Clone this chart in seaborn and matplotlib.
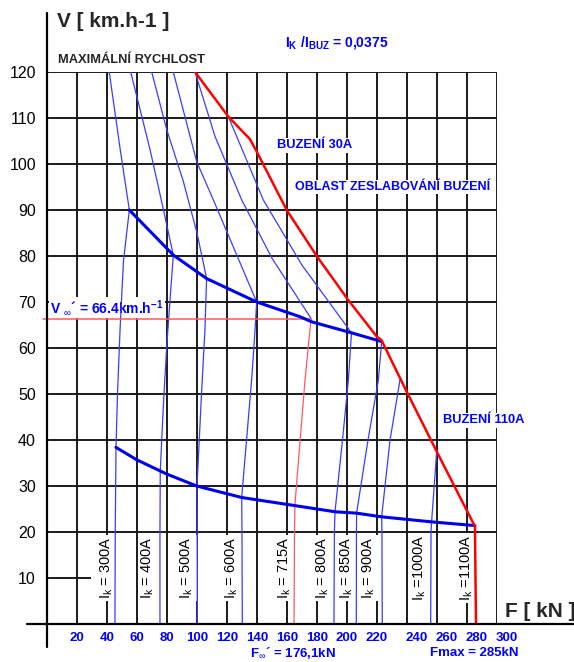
"""Traction characteristic F-V of a series motor with field weakening."""

import matplotlib

matplotlib.use("Agg")
import matplotlib.pyplot as plt
import seaborn as sns
from matplotlib.transforms import ScaledTranslation

# axes ticks
V_TICKS = [10, 20, 30, 40, 50, 60, 70, 80, 90, 100, 110, 120]
F_TICKS = [20, 40, 60, 80, 100, 120, 140, 160, 180, 200, 220, 240, 260, 280, 300]

# BUZENI 110A (full field) - lower bold curve
F_FULL = [46.0, 59.8, 79.8, 99.8, 129.8, 162.0, 192.0, 206.4, 223.0, 256.4, 285.3]
V_FULL = [38.4, 35.7, 32.6, 30.0, 27.5, 25.9, 24.4, 24.1, 23.3, 22.2, 21.4]

# BUZENI 30A (weakest field) - upper bold curve
F_WEAK = [54.9, 84.2, 106.4, 139.8, 168.7, 176.4, 203.0, 223.1]
V_WEAK = [90.0, 80.2, 75.1, 70.0, 66.8, 65.7, 63.3, 61.4]

# limit envelope (red)
F_LIMIT = [98.7, 120.9, 135.3, 139.8, 159.8, 179.8, 200.9, 219.8, 223.0, 239.8, 259.8, 285.3, 286.0]
V_LIMIT = [120.0, 110.3, 105.4, 102.7, 90.0, 80.0, 70.4, 62.5, 61.7, 50.5, 37.5, 21.2, 0.0]

# constant armature current lines
I300_F = [45.3, 45.5, 46.0, 47.0, 48.7, 51.0, 54.9, 48.7, 41.5]
I300_V = [0.0, 20.0, 38.4, 50.0, 64.0, 79.0, 90.0, 103.4, 120.0]
I400_F = [75.3, 75.3, 75.5, 77.5, 79.8, 82.0, 84.2, 77.0, 68.5, 55.8]
I400_V = [0.0, 20.0, 33.2, 47.0, 60.3, 70.4, 80.2, 91.0, 103.4, 120.0]
I500_F = [100.2, 100.1, 100.0, 103.0, 105.3, 106.4, 100.0, 90.9, 79.8, 69.8]
I500_V = [0.0, 20.0, 30.0, 50.0, 64.0, 75.1, 85.0, 96.2, 107.5, 120.0]
I600_F = [130.2, 130.0, 129.8, 136.4, 138.7, 139.8, 110.9, 99.8, 84.2]
I600_V = [0.0, 20.0, 27.5, 53.0, 63.9, 70.0, 92.2, 100.5, 120.0]
I715_F = [164.7, 165.0, 165.3, 172.0, 175.3, 176.1]
I715_V = [0.0, 20.0, 26.0, 53.0, 63.9, 66.4]
I715_TOP_F = [176.1, 150.0, 129.8, 112.0, 98.7]
I715_TOP_V = [66.4, 79.5, 92.2, 106.0, 120.0]
I800_F = [191.3, 191.6, 192.0, 197.0, 200.9, 203.0, 170.0, 144.2, 120.9]
I800_V = [0.0, 20.0, 24.4, 40.0, 53.0, 63.3, 78.0, 92.2, 110.3]
I850_F = [206.2, 206.3, 206.4, 214.0, 220.9, 223.1]
I850_V = [0.0, 20.0, 24.1, 40.0, 53.0, 61.4]
I900_F = [223.5, 223.3, 223.1, 228.7, 235.3]
I900_V = [0.0, 20.0, 23.3, 40.0, 53.0]
I1000_F = [255.8, 256.0, 256.4, 259.8]
I1000_V = [0.0, 20.0, 22.2, 37.5]

# rated point
V_INF = 66.4
F_INF = 176.1

# current labels along the bottom
IK_LABELS = ["= 300A", "= 400A", "= 500A", "= 600A", "= 715A", "= 800A",
             "= 850A", "= 900A", "=1000A", "=1100A"]
IK_LABEL_F = [40.0, 67.5, 93.0, 123.0, 158.7, 184.0, 199.8, 214.7, 248.7, 279.8]

BLUE = "#0000ee"
THIN_BLUE = "#3c3cff"
RED = "#ff0000"
THIN_RED = "#ff5a5a"
GRID = "#1a1a1a"

sns.set_theme(style="white")
plt.rcParams["font.family"] = ["Liberation Sans", "DejaVu Sans"]
plt.rcParams["mathtext.fontset"] = "custom"
plt.rcParams["mathtext.rm"] = "Liberation Sans"
plt.rcParams["mathtext.bf"] = "Liberation Sans:bold"
plt.rcParams["mathtext.it"] = "Liberation Sans:italic"

fig = plt.figure(figsize=(5.74, 6.62), dpi=100, facecolor="white")
ax = fig.add_axes([47 / 574, 38 / 662, 450 / 574, 552 / 662])
ax.set_xlim(0, 300)
ax.set_ylim(0, 120)
for s in ax.spines.values():
    s.set_visible(False)

# grid
ax.vlines(F_TICKS, 0, 120, color=GRID, lw=1.4, zorder=1)
ax.hlines(V_TICKS[1:], 0, 300, color=GRID, lw=1.4, zorder=1)
ax.hlines(V_TICKS[0], 0, 29, color=GRID, lw=1.4, zorder=1)

# axis lines, running past the plot area
ax.plot([0, 0], [-5, 132.8], color="black", lw=1.6, clip_on=False, zorder=6)
ax.plot([-13.3, 351.3], [0, 0], color="black", lw=1.6, clip_on=False, zorder=6)

# ticks
ax.set_yticks(V_TICKS)
ax.set_yticklabels([str(v) for v in V_TICKS], fontsize=11.5, color="black")
ax.set_xticks(F_TICKS)
ax.set_xticklabels([str(f) for f in F_TICKS], fontsize=9.5, color="blue",
                   fontweight="bold")
ax.tick_params(axis="y", length=0, pad=8)
ax.tick_params(axis="x", length=0, pad=6)
shift = ScaledTranslation(10 / 100, 0, fig.dpi_scale_trans)
for lab in ax.get_xticklabels()[11:]:
    lab.set_transform(lab.get_transform() + shift)

# current labels (white box over the grid)
for lab, f in zip(IK_LABELS, IK_LABEL_F):
    ax.text(f, 12.2, r"$\mathrm{I_k}$ " + lab, rotation=90, ha="center",
            va="center", fontsize=10.5, color="black", zorder=2,
            bbox=dict(facecolor="white", edgecolor="none", pad=1.5))

# thin current lines
thin = dict(estimator=None, sort=False, ax=ax, lw=0.9, legend=False, zorder=3)
for fx, vy in [(I300_F, I300_V), (I400_F, I400_V), (I500_F, I500_V),
               (I600_F, I600_V), (I715_TOP_F, I715_TOP_V), (I800_F, I800_V),
               (I850_F, I850_V), (I900_F, I900_V), (I1000_F, I1000_V)]:
    sns.lineplot(x=fx, y=vy, color=THIN_BLUE, **thin)
sns.lineplot(x=I715_F, y=I715_V, color=THIN_RED, **thin)
ax.plot([-2.7, F_INF], [V_INF, V_INF], color=THIN_RED, lw=1.1, clip_on=False,
        zorder=3)

# bold curves
sns.lineplot(x=F_FULL, y=V_FULL, color=BLUE, lw=2.2, estimator=None,
             sort=False, ax=ax, zorder=4)
sns.lineplot(x=F_WEAK, y=V_WEAK, color=BLUE, lw=2.2, estimator=None,
             sort=False, ax=ax, zorder=4)
sns.lineplot(x=F_LIMIT, y=V_LIMIT, color=RED, lw=1.8, estimator=None,
             sort=False, ax=ax, zorder=5)
ax.set_xlabel("")
ax.set_ylabel("")

# texts
wbox = dict(facecolor="white", edgecolor="none", pad=1)
ax.text(6.7, 130.9, "V [ km.h-1 ]", fontsize=15, fontweight="bold",
        ha="left", va="center", clip_on=False)
ax.text(305.3, 2.8, "F [ kN ]", fontsize=15, fontweight="bold",
        ha="left", va="center", clip_on=False)
ax.text(7.3, 122.6, "MAXIMÁLNÍ RYCHLOST", fontsize=9.3, fontweight="bold",
        ha="left", va="center", clip_on=False)
ax.text(158.7, 126.5, r"$\mathbf{I_K}$ $\mathbf{/I_{BUZ}}$ = 0,0375",
        fontsize=10, fontweight="bold", color="blue", ha="left",
        va="center", clip_on=False)
ax.text(153.3, 104.1, "BUZENÍ 30A", fontsize=9.3, fontweight="bold",
        color="blue", ha="left", va="center", bbox=wbox, zorder=2)
ax.text(165.3, 95.0, "OBLAST ZESLABOVÁNÍ BUZENÍ", fontsize=9.0,
        fontweight="bold", color="blue", ha="left", va="center", bbox=wbox,
        zorder=2)
ax.text(264.0, 44.3, "BUZENÍ 110A", fontsize=9.3, fontweight="bold",
        color="blue", ha="left", va="center", bbox=wbox, zorder=2)
ax.text(2.0, 68.8, r"V $_{\infty}$´ = 66.4km.h$^{\mathbf{-1}}$", fontsize=10,
        fontweight="bold", color="blue", ha="left", va="center", bbox=wbox,
        zorder=2)
ax.text(135.3, -6.3, r"F$_{\infty}$´ = 176,1kN", fontsize=9.5,
        fontweight="bold", color="blue", ha="left", va="center",
        clip_on=False)
ax.text(255.3, -6.3, "Fmax = 285kN", fontsize=9.5, fontweight="bold",
        color="blue", ha="left", va="center", clip_on=False)

fig.savefig("out.png", dpi=100, facecolor="white")
